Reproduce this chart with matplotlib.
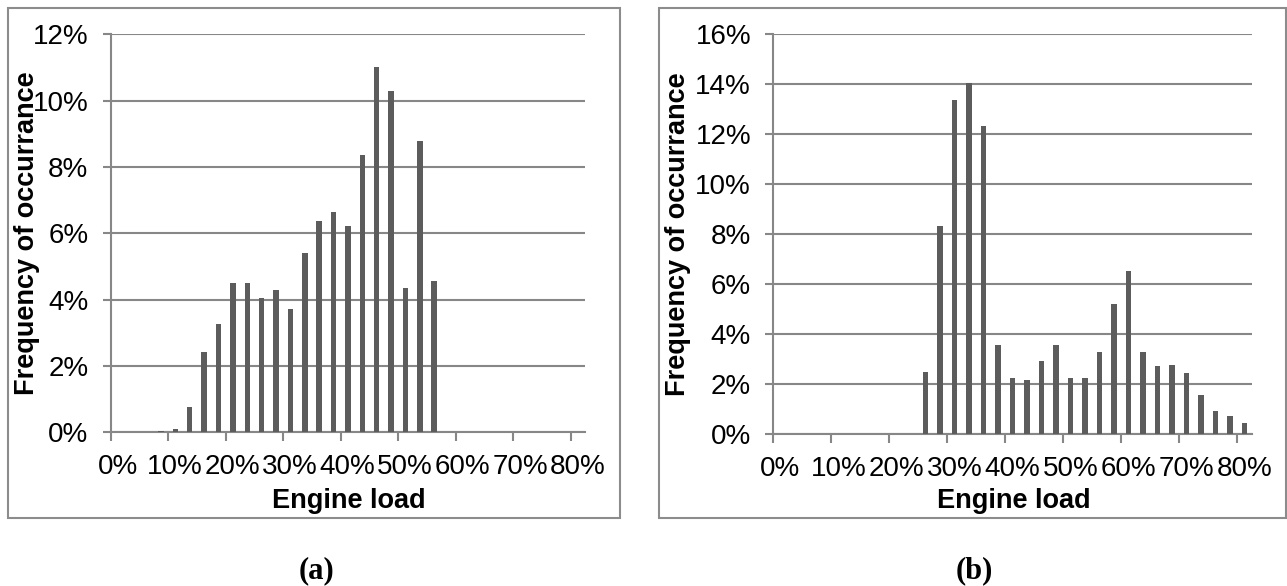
"""Engine load histograms, two duty cycles side by side."""

import matplotlib
matplotlib.use("Agg")
import matplotlib.pyplot as plt
from matplotlib.patches import Rectangle
from matplotlib.transforms import ScaledTranslation
from matplotlib.ticker import FuncFormatter

# bin centres (% engine load) and frequency of occurrence (%)
load_a = [8.75, 11.25, 13.75, 16.25, 18.75, 21.25, 23.75, 26.25, 28.75, 31.25,
          33.75, 36.25, 38.75, 41.25, 43.75, 46.25, 48.75, 51.25, 53.75, 56.25]
freq_a = [0.03, 0.09, 0.76, 2.42, 3.28, 4.51, 4.51, 4.04, 4.30, 3.72,
          5.40, 6.38, 6.63, 6.23, 8.35, 11.02, 10.30, 4.36, 8.77, 4.55]

load_b = [26.25, 28.75, 31.25, 33.75, 36.25, 38.75, 41.25, 43.75, 46.25, 48.75,
          51.25, 53.75, 56.25, 58.75, 61.25, 63.75, 66.25, 68.75, 71.25, 73.75,
          76.25, 78.75, 81.25]
freq_b = [2.49, 8.34, 13.36, 14.06, 12.33, 3.58, 2.27, 2.17, 2.94, 3.58,
          2.25, 2.27, 3.27, 5.19, 6.52, 3.30, 2.71, 2.77, 2.46, 1.58,
          0.93, 0.73, 0.44]

x_ticks = [0, 10, 20, 30, 40, 50, 60, 70, 80]
y_ticks_a = [0, 2, 4, 6, 8, 10, 12]
y_ticks_b = [0, 2, 4, 6, 8, 10, 12, 14, 16]

W, H = 1287, 586
BAR = "#5c5c5c"
GRID = "#878787"
FRAME = "#8c8c8c"

plt.rcParams["font.family"] = ["Liberation Sans", "DejaVu Sans"]

fig = plt.figure(figsize=(W / 100, H / 100), dpi=100)


def px_axes(x0, y_top, x1, y_bot):
    return fig.add_axes([x0 / W, 1 - y_bot / H, (x1 - x0) / W, (y_bot - y_top) / H])


def style(ax, loads, freqs, yticks):
    ax.bar(loads, freqs, width=0.95, color=BAR, zorder=3)
    ax.set_xlim(0, 82.5)
    ax.set_ylim(0, yticks[-1])
    ax.set_xticks(x_ticks)
    ax.set_yticks(yticks)
    pct = FuncFormatter(lambda v, _: f"{v:.0f}%")
    ax.xaxis.set_major_formatter(pct)
    ax.yaxis.set_major_formatter(pct)
    ax.grid(axis="y", color=GRID, linewidth=1.5, zorder=1)
    ax.set_axisbelow(True)
    for s in ("top", "right"):
        ax.spines[s].set_visible(False)
    for s in ("left", "bottom"):
        ax.spines[s].set_color(GRID)
        ax.spines[s].set_linewidth(1.5)
    ax.tick_params(axis="x", length=6.5, width=1.5, color=GRID, labelsize=20, pad=9)
    ax.tick_params(axis="y", length=6, width=1.5, color=GRID, labelsize=20, pad=10)
    shift = ScaledTranslation(7 / 100, 0, fig.dpi_scale_trans)
    for lab in ax.get_xticklabels():
        lab.set_transform(lab.get_transform() + shift)


# outer chart frames
for x0, x1 in [(7.5, 620), (658.5, 1285.5)]:
    fig.add_artist(Rectangle((x0 / W, 1 - 518 / H), (x1 - x0) / W, 510 / H,
                             transform=fig.transFigure, fill=False,
                             edgecolor=FRAME, linewidth=1.5))

ax_a = px_axes(110.7, 34.3, 585.1, 432.3)
style(ax_a, load_a, freq_a, y_ticks_a)
ax_b = px_axes(773.3, 34.0, 1251.8, 434.3)
style(ax_b, load_b, freq_b, y_ticks_b)

# y label sits over the tick labels on the left chart, as in the source figure
for ax, xc, yc_lab in [(ax_a, 27, 233), (ax_b, 678, 234)]:
    fig.text(xc / W, 1 - yc_lab / H, "Frequency of occurrance", rotation=90,
             ha="center", va="center", fontsize=19.5, fontweight="bold")

fig.text(349 / W, 1 - 501 / H, "Engine load", ha="center", va="center",
         fontsize=19.5, fontweight="bold")
fig.text(1014 / W, 1 - 501 / H, "Engine load", ha="center", va="center",
         fontsize=19.5, fontweight="bold")

fig.text(316 / W, 1 - 571 / H, "(a)", ha="center", va="center", fontsize=22,
         fontweight="bold", family=["Liberation Serif", "DejaVu Serif"])
fig.text(974 / W, 1 - 571 / H, "(b)", ha="center", va="center", fontsize=22,
         fontweight="bold", family=["Liberation Serif", "DejaVu Serif"])

fig.savefig("out.png", dpi=100)
